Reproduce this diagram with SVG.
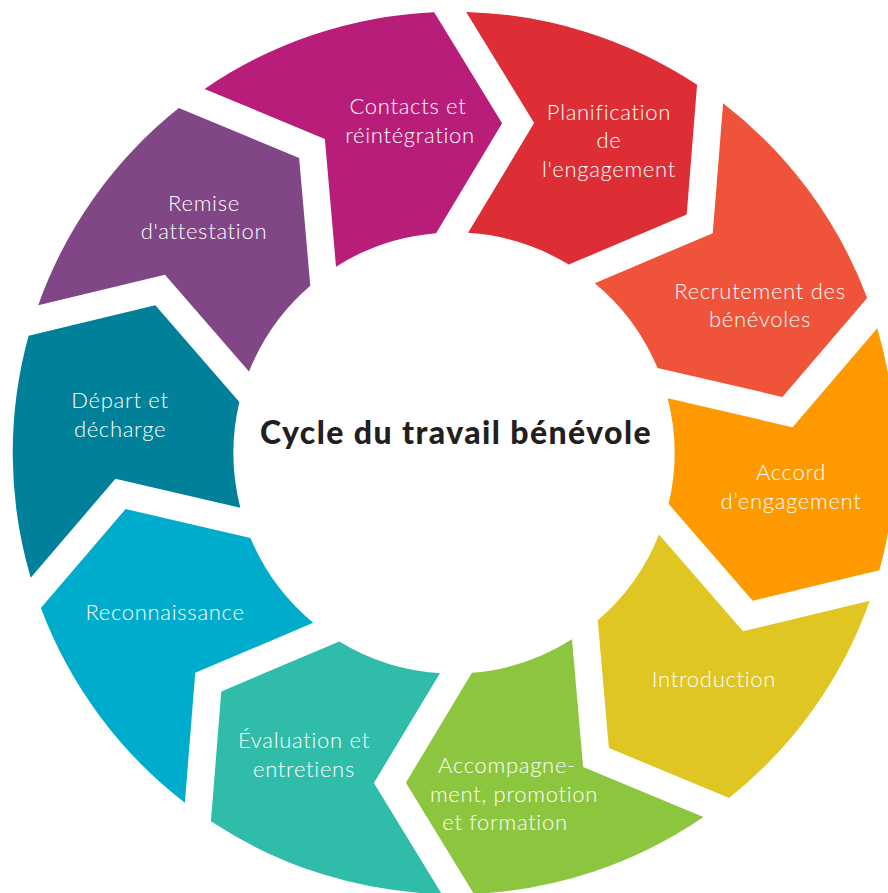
<svg xmlns="http://www.w3.org/2000/svg" xmlns:xlink="http://www.w3.org/1999/xlink" width="888" height="893" viewBox="0 0 888 893">
<style>
  .lbl { font-family: Lato, "Open Sans", "Liberation Sans", sans-serif; font-weight: 300; font-size: 22px; fill: #ffffff; text-anchor: middle; letter-spacing: 0.7px; }
  .title { font-family: Lato, "Liberation Sans", sans-serif; font-weight: 900; font-size: 32px; fill: #231f20; text-anchor: middle; letter-spacing: 1.4px; }
</style>
<defs>
  <path id="seg" d="M16,-441 A441.3,441.3 0 0 1 246.27,-366.18 L234.78,-236.4 L116.37,-187.39 A220.6,220.6 0 0 0 16,-220 L82.99,-329.25 Z"/>
</defs>
<rect width="888" height="893" fill="#ffffff"/>
<g id="node-planification">
  <use xlink:href="#seg" href="#seg" fill="#dd2e35" transform="translate(454 453) rotate(-0.5)"/>
  <text class="lbl"><tspan x="609" y="120">Planification</tspan><tspan x="609" y="148">de</tspan><tspan x="609" y="177">l'engagement</tspan></text>
</g>
<g id="node-recrutement">
  <use xlink:href="#seg" href="#seg" fill="#ef533a" transform="translate(454 453) rotate(35.5)"/>
  <text class="lbl"><tspan x="760" y="299">Recrutement des</tspan><tspan x="760" y="327">bénévoles</tspan></text>
</g>
<g id="node-accord">
  <use xlink:href="#seg" href="#seg" fill="#fe9a00" transform="translate(454 453) rotate(71.5)"/>
  <text class="lbl"><tspan x="791" y="480">Accord</tspan><tspan x="791" y="509">d’engagement</tspan></text>
</g>
<g id="node-introduction">
  <use xlink:href="#seg" href="#seg" fill="#e0c623" transform="translate(454 453) rotate(107.5)"/>
  <text class="lbl"><tspan x="714" y="687">Introduction</tspan></text>
</g>
<g id="node-accompagnement">
  <use xlink:href="#seg" href="#seg" fill="#8cc63f" transform="translate(454 453) rotate(143.5)"/>
  <text class="lbl"><tspan x="507" y="773">Accompagne-</tspan><tspan x="514" y="802">ment, promotion</tspan><tspan x="505" y="830">et formation</tspan></text>
</g>
<g id="node-evaluation">
  <use xlink:href="#seg" href="#seg" fill="#2fbca9" transform="translate(454 453) rotate(179.5)"/>
  <text class="lbl"><tspan x="304" y="748">Évaluation et</tspan><tspan x="304" y="777">entretiens</tspan></text>
</g>
<g id="node-reconnaissance">
  <use xlink:href="#seg" href="#seg" fill="#00accc" transform="translate(454 453) rotate(215.5)"/>
  <text class="lbl"><tspan x="165" y="620">Reconnaissance</tspan></text>
</g>
<g id="node-depart">
  <use xlink:href="#seg" href="#seg" fill="#008199" transform="translate(454 453) rotate(251.5)"/>
  <text class="lbl"><tspan x="120" y="408">Départ et</tspan><tspan x="120" y="437">décharge</tspan></text>
</g>
<g id="node-remise">
  <use xlink:href="#seg" href="#seg" fill="#814685" transform="translate(454 453) rotate(287.5)"/>
  <text class="lbl"><tspan x="204" y="211">Remise</tspan><tspan x="204" y="239">d'attestation</tspan></text>
</g>
<g id="node-contacts">
  <use xlink:href="#seg" href="#seg" fill="#b91d7a" transform="translate(454 453) rotate(323.5)"/>
  <text class="lbl"><tspan x="408" y="114">Contacts et</tspan><tspan x="410" y="143">réintégration</tspan></text>
</g>
<g id="node-title">
  <text class="title" x="456" y="444">Cycle du travail bénévole</text>
</g>
</svg>
